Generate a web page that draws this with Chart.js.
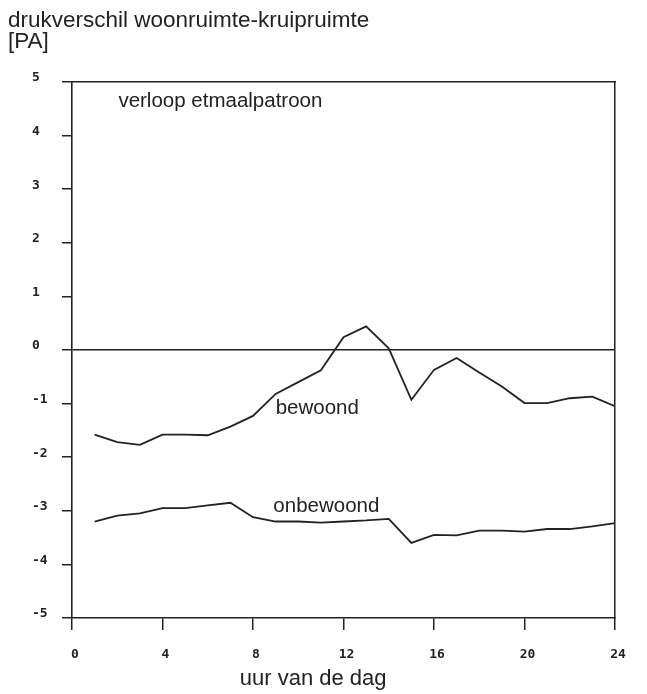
<!DOCTYPE html>
<html><head><meta charset="utf-8">
<script src="https://cdn.jsdelivr.net/npm/chart.js@4/dist/chart.umd.min.js"></script>
<style>html,body{margin:0;padding:0;background:#fff}#wrap{width:647px;height:694px}</style>
</head><body><div id="wrap"><canvas id="c" width="647" height="694"></canvas></div>
<script>
// ---- data ----
const hours = [1,2,3,4,5,6,7,8,9,10,11,12,13,14,15,16,17,18,19,20,21,22,23,24];
const bewoond = [-1.58,-1.72,-1.77,-1.58,-1.58,-1.59,-1.43,-1.23,-0.82,-0.6,-0.38,0.24,0.44,0.03,-0.93,-0.37,-0.15,-0.42,-0.68,-0.99,-0.99,-0.9,-0.87,-1.05];
const onbewoond = [-3.2,-3.09,-3.05,-2.95,-2.95,-2.9,-2.85,-3.12,-3.2,-3.2,-3.22,-3.2,-3.18,-3.15,-3.6,-3.45,-3.46,-3.37,-3.37,-3.39,-3.34,-3.34,-3.29,-3.23];
const xTickValues = [0,4,8,12,16,20,24];
const yTickValues = [5,4,3,2,1,0,-1,-2,-3,-4,-5];
const titleLines = ['drukverschil woonruimte-kruipruimte','[PA]'];
const xTitle = 'uur van de dag';
const noteText = 'verloop etmaalpatroon';
const seriesNames = ['bewoond','onbewoond'];
// label anchors (data coordinates)
const noteAnchors = [
  {text: noteText, x: 2.05, y: 4.53},
  {text: seriesNames[0], x: 9.0, y: -1.19},
  {text: seriesNames[1], x: 8.9, y: -3.03}
];
const xTitleAnchor = {x: 10.66};

const INK = '#222';
const tickFont = {family: '"DejaVu Sans Mono", monospace', size: 13, weight: 'bold'};
const SANS = '"Liberation Sans", Arial, sans-serif';

const textPlugin = {
  id: 'texts',
  afterDraw(chart) {
    const {ctx, scales} = chart;
    ctx.save();
    ctx.fillStyle = INK;
    ctx.textAlign = 'left';
    ctx.textBaseline = 'alphabetic';
    ctx.font = '22.5px ' + SANS;
    ctx.fillText(titleLines[0], 8, 27);
    ctx.fillText(titleLines[1], 8, 48);
    ctx.font = '20.5px ' + SANS;
    noteAnchors.forEach(a => {
      ctx.fillText(a.text, scales.x.getPixelForValue(a.x), scales.y.getPixelForValue(a.y));
    });
    ctx.font = '22px ' + SANS;
    ctx.textAlign = 'center';
    ctx.textBaseline = 'middle';
    ctx.fillText(xTitle, scales.x.getPixelForValue(xTitleAnchor.x), 679);
    ctx.restore();
  }
};

const mk = (vals) => hours.map((h, i) => ({x: h, y: vals[i]}));

new Chart(document.getElementById('c'), {
  type: 'line',
  data: {
    datasets: [
      {label: seriesNames[0], data: mk(bewoond), borderColor: INK, borderWidth: 1.8, pointRadius: 0, tension: 0, fill: false, xAxisID: 'x', yAxisID: 'y'},
      {label: seriesNames[1], data: mk(onbewoond), borderColor: INK, borderWidth: 1.8, pointRadius: 0, tension: 0, fill: false, xAxisID: 'x', yAxisID: 'y'}
    ]
  },
  options: {
    responsive: false,
    animation: false,
    layout: {padding: {left: 32, right: 32, top: 82, bottom: 3}},
    plugins: {legend: {display: false}, tooltip: {enabled: false}, title: {display: false}},
    scales: {
      x: {
        type: 'linear', position: 'bottom', min: 0, max: 24,
        afterBuildTicks: s => { s.ticks = xTickValues.map(v => ({value: v})); },
        ticks: {font: tickFont, color: INK, padding: 17, labelOffset: 3, maxRotation: 0, autoSkip: false},
        grid: {drawOnChartArea: false, tickLength: 12, color: INK, tickColor: INK, lineWidth: 1.5},
        border: {color: INK, width: 1.6},
        afterFit: s => { s.height = 73; }
      },
      y: {
        type: 'linear', position: 'left', min: -5, max: 5,
        afterBuildTicks: s => { s.ticks = yTickValues.map(v => ({value: v})); },
        ticks: {font: tickFont, color: INK, crossAlign: 'far', labelOffset: -4, autoSkip: false},
        grid: {
          drawOnChartArea: true, tickLength: 10, lineWidth: 1.5, tickColor: INK,
          color: c => (c.tick && c.tick.value === 0) ? INK : 'rgba(0,0,0,0)'
        },
        border: {color: INK, width: 1.6},
        afterFit: s => { s.width = 40; }
      },
      yr: {
        type: 'linear', position: 'right', min: -5, max: 5, display: true,
        ticks: {display: false}, grid: {display: false, drawTicks: false},
        border: {display: true, color: INK, width: 1.5, dash: [18, 3]},
        afterFit: s => { s.width = 0; }
      },
      xt: {
        type: 'linear', position: 'top', min: 0, max: 24, display: true,
        ticks: {display: false}, grid: {display: false, drawTicks: false},
        border: {display: true, color: INK, width: 1.5},
        afterFit: s => { s.height = 0; }
      }
    }
  },
  plugins: [textPlugin]
});
</script>
</body></html>
